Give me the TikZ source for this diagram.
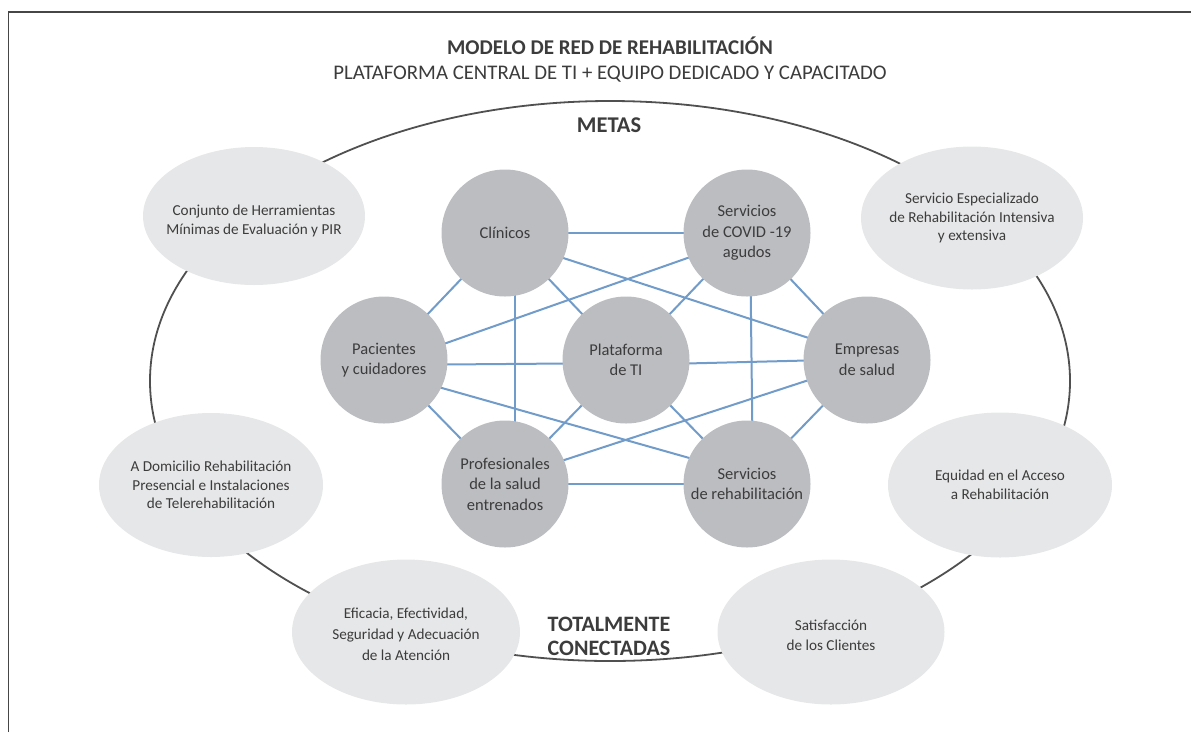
\documentclass[tikz,border=0pt]{standalone}
\usepackage{fontspec}
\setmainfont{Carlito}
\usetikzlibrary{shapes.geometric,calc}
\pgfdeclarelayer{background}
\pgfsetlayers{background,main}
\definecolor{circfill}{RGB}{188,189,192}
\definecolor{ellfill}{RGB}{230,231,232}
\definecolor{edgeblue}{RGB}{113,155,201}
\definecolor{txtgray}{RGB}{60,60,60}
\definecolor{ringgray}{RGB}{80,80,80}
\definecolor{framegray}{RGB}{70,70,70}
\tikzset{
  hub/.style={circle, fill=circfill, minimum size=127pt, inner sep=0pt, align=center,
    text=txtgray, font=\fontsize{16.5}{20.5}\selectfont},
  goal/.style={ellipse, fill=ellfill, inner sep=0pt},
  goaltext/.style={align=center, inner sep=0pt, text=txtgray, font=\fontsize{15.2}{18.5}\selectfont},
  link/.style={draw=edgeblue, line width=2pt},
  heading/.style={text=txtgray, align=center}
}
\begin{document}
\begin{tikzpicture}[x=1pt,y=-1pt]
\useasboundingbox (0,0) rectangle (1191,732);
% frame (top and left edges)
\draw[framegray, line width=1.6pt] (8.3,732) -- (8.3,11.7) -- (1191,11.7);
% titles
\node[heading, font=\bfseries\fontsize{21}{24}\selectfont] (title) at (610,46) {MODELO DE RED DE REHABILITACIÓN};
\node[heading, font=\fontsize{20.8}{24}\selectfont] (subtitle) at (610,74) {PLATAFORMA CENTRAL DE TI + EQUIPO DEDICADO Y CAPACITADO};
% big ring
\draw[ringgray, line width=1.8pt] (610,381) ellipse [x radius=460pt, y radius=280pt];
\node[heading, font=\bfseries\fontsize{22.5}{24}\selectfont] (metas) at (609,125) {METAS};
\node[heading, font=\bfseries\fontsize{22}{24}\selectfont] (conect) at (609,636) {TOTALMENTE\\CONECTADAS};
% goal ellipses
\node[goal, minimum width=222pt, minimum height=138pt] (g1) at (254,216) {};
\node[goaltext] (t1) at (254,221) {Conjunto de Herramientas\\Mínimas de Evaluación y PIR};
\node[goal, minimum width=222pt, minimum height=143pt] (g2) at (972,218) {};
\node[goaltext] (t2) at (g2) {Servicio Especializado\\de Rehabilitación Intensiva\\y extensiva};
\node[goal, minimum width=224pt, minimum height=144pt] (g3) at (211,485) {};
\node[goaltext] (t3) at (g3) {A Domicilio Rehabilitación\\Presencial e Instalaciones\\de Telerehabilitación};
\node[goal, minimum width=224pt, minimum height=145pt] (g4) at (1000,485) {};
\node[goaltext] (t4) at (g4) {Equidad en el Acceso\\a Rehabilitación};
\node[goal, minimum width=228pt, minimum height=145pt] (g5) at (406,632) {};
\node[goaltext, font=\fontsize{15.2}{21}\selectfont] (t5) at (406,634) {Eficacia, Efectividad,\\Seguridad y Adecuación\\de la Atención};
\node[goal, minimum width=227pt, minimum height=145pt] (g6) at (831,632) {};
\node[goaltext, font=\fontsize{15.2}{20}\selectfont] (t6) at (831,635) {Satisfacción\\de los Clientes};
% hubs
\node[hub] (C) at (505,233) {Clínicos};
\node[hub] (V) at (747,233) {Servicios\\de COVID -19\\agudos};
\node[hub] (P) at (384,360) {Pacientes\\y cuidadores};
\node[hub] (Pl) at (626,360) {Plataforma\\de TI};
\node[hub] (E) at (867,360) {Empresas\\de salud};
\node[hub] (Pr) at (505,484) {Profesionales\\de la salud\\entrenados};
\node[hub] (S) at (747,484) {Servicios\\de rehabilitación};
% links
\begin{pgfonlayer}{background}
\draw[link] (C.center) -- (V.center);
\draw[link] (C.center) -- (P.center);
\draw[link] (C.center) -- (Pl.center);
\draw[link] ($(C.center)+(10,0)$) -- ($(Pr.center)+(10,0)$);
\draw[link] ($(C.center)+(0,6)$) -- ($(E.center)+(0,-3)$);
\draw[link] ($(V.center)+(0,4)$) -- ($(P.center)+(0,5)$);
\draw[link] (V.center) -- (Pl.center);
\draw[link] ($(V.center)+(3,0)$) -- ($(S.center)+(6,0)$);
\draw[link] (V.center) -- (E.center);
\draw[link] ($(P.center)+(0,5)$) -- ($(Pl.center)+(0,3)$);
\draw[link] ($(Pl.center)+(0,5)$) -- ($(E.center)+(0,-1)$);
\draw[link] (P.center) -- (Pr.center);
\draw[link] ($(P.center)+(0,11.6)$) -- ($(S.center)+(0,-9.7)$);
\draw[link] (Pl.center) -- (Pr.center);
\draw[link] (Pl.center) -- (S.center);
\draw[link] ($(Pr.center)+(0,-4.6)$) -- ($(E.center)+(0,1)$);
\draw[link] (E.center) -- (S.center);
\draw[link] (Pr.center) -- (S.center);
\end{pgfonlayer}
\end{tikzpicture}
\end{document}
